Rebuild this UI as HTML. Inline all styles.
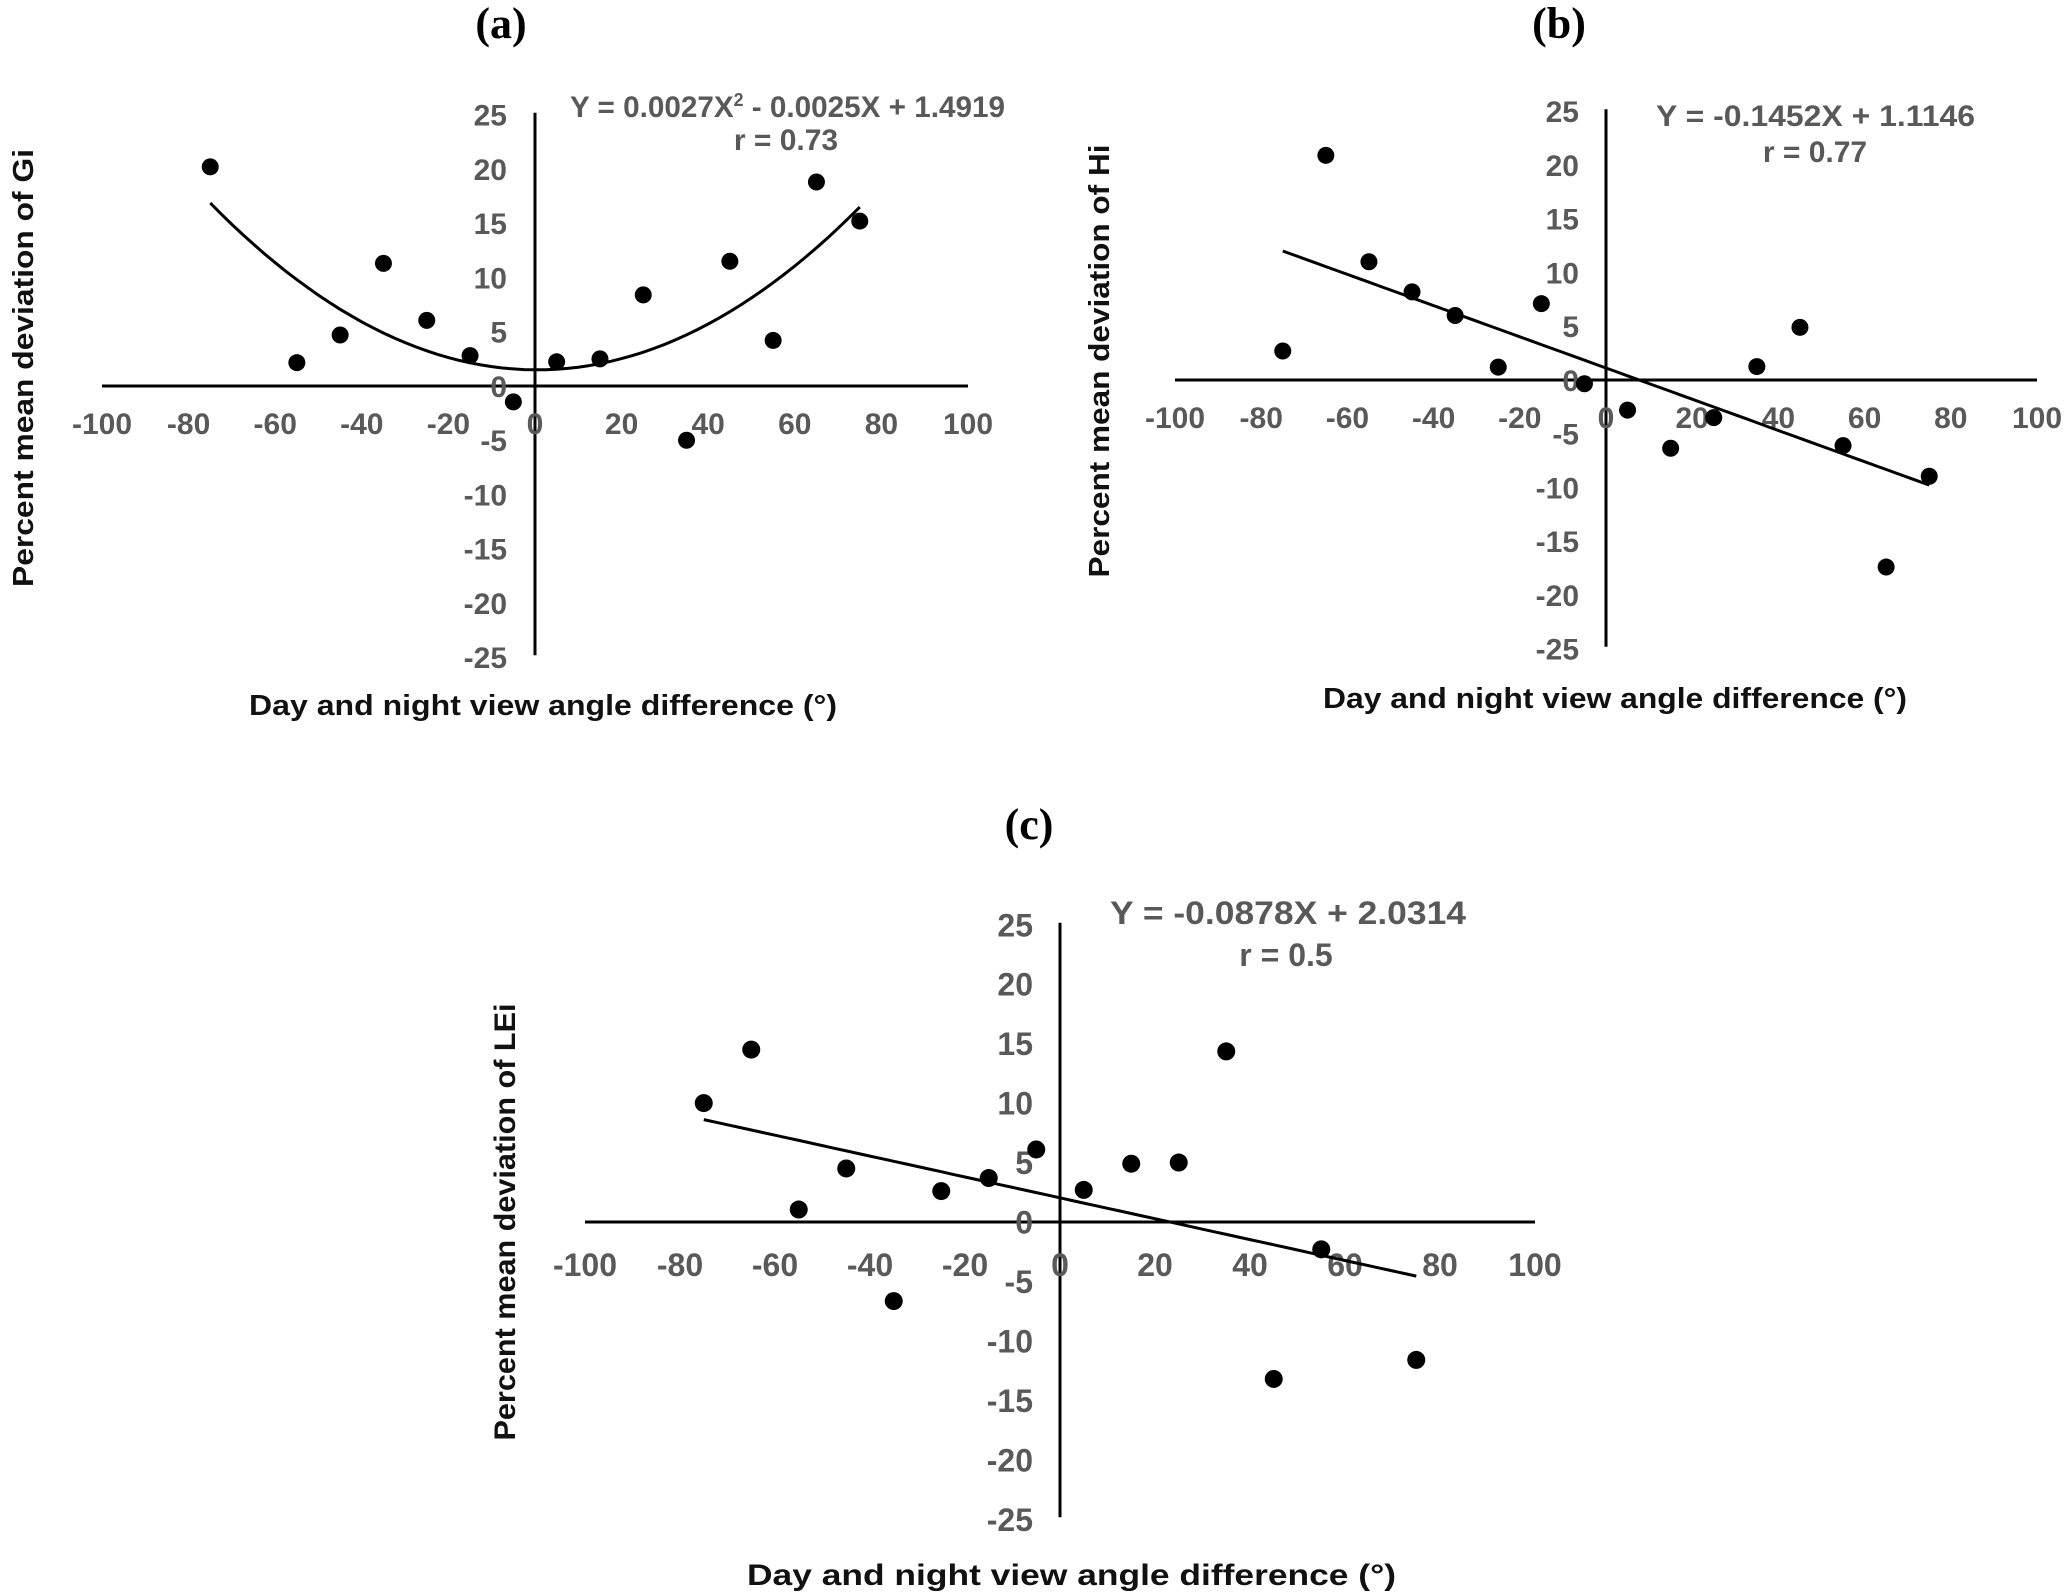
<!DOCTYPE html>
<html><head><meta charset="utf-8"><style>
html,body{margin:0;padding:0;background:#fff;}
svg{display:block;}
.tick{font-family:"Liberation Sans",sans-serif;font-weight:bold;fill:#595959;}
.ttl{font-family:"Liberation Sans",sans-serif;font-weight:bold;fill:#111;}
.eq{font-family:"Liberation Sans",sans-serif;font-weight:bold;fill:#595959;}
.pl{font-family:"Liberation Serif",serif;font-weight:bold;fill:#000;}
</style></head><body>
<svg id="fig" width="2067" height="1596" viewBox="0 0 2067 1596" xmlns="http://www.w3.org/2000/svg"></svg>
<script>
// ---- data ----
const xTickLabels = [-100,-80,-60,-40,-20,0,20,40,60,80,100];
const yTickLabels = [25,20,15,10,5,0,-5,-10,-15,-20,-25];
const xA = [-75,-55,-45,-35,-25,-15,-5,5,15,25,35,45,55,65,75];
const yA = [20.2,2.15,4.7,11.3,6.05,2.8,-1.46,2.23,2.5,8.4,-5.0,11.5,4.2,18.8,15.2];
const fitA = [0.0027,-0.0025,1.4919];
const xB = [-75,-65,-55,-45,-35,-25,-15,-5,5,15,25,35,45,55,65,75];
const yB = [2.7,20.9,11.0,8.2,6.0,1.2,7.1,-0.35,-2.8,-6.35,-3.5,1.25,4.9,-6.1,-17.4,-8.95];
const fitB = [0,-0.1452,1.1146];
const xC = [-75,-65,-55,-45,-35,-25,-15,-5,5,15,25,35,45,55,75];
const yC = [10.0,14.5,1.05,4.5,-6.65,2.6,3.7,6.1,2.7,4.9,5.0,14.35,-13.2,-2.3,-11.6];
const fitC = [0,-0.0878,2.0314];

const NS='http://www.w3.org/2000/svg';
const svg=document.getElementById('fig');
function mk(tag,attrs,parent,txt){const e=document.createElementNS(NS,tag);for(const k in attrs)e.setAttribute(k,attrs[k]);if(txt!==undefined)e.textContent=txt;(parent||svg).appendChild(e);return e;}

function panel(id,g,xs,ys,fit,labels){
  const grp=mk('g',{});
  
  
  const sx=v=>g.x0+v*g.kx, sy=v=>g.y0-v*g.ky;
  const t=mk('text',{x:g.titleX,y:g.titleY,'text-anchor':'middle','font-size':44,class:'pl'},grp,'('+id+')');
  
  
  const xl=mk('line',{x1:sx(-100),x2:sx(100),y1:g.y0,y2:g.y0,stroke:'#000','stroke-width':3},grp);
  
  
  const yl=mk('line',{x1:g.x0,x2:g.x0,y1:sy(25)-2,y2:sy(-25)-2,stroke:'#000','stroke-width':3},grp);
  
  
  xTickLabels.forEach(v=>{
    const e=mk('text',{x:sx(v),y:g.xLabY,'text-anchor':'middle','font-size':g.fs,class:'tick'},grp,String(v));
    
    
  });
  yTickLabels.forEach(v=>{
    const e=mk('text',{x:g.yLabR,y:sy(v)+g.fs*0.36,'text-anchor':'end','font-size':g.fs,class:'tick'},grp,String(v));
    
    
  });
  const x1=-75,x2=75;
  let d='';
  for(let i=0;i<=60;i++){const x=x1+(x2-x1)*i/60;const y=fit[0]*x*x+fit[1]*x+fit[2];d+=(i?'L':'M')+sx(x).toFixed(1)+','+sy(y).toFixed(1);}
  const tl=mk('path',{d:d,fill:'none',stroke:'#000','stroke-width':3},grp);
  
  
  xs.forEach((x,i)=>{
    const c=mk('circle',{cx:sx(x),cy:sy(ys[i]),r:g.r,fill:'#000'},grp);
    
    
  });
  const eq=mk('text',{x:g.eqX,y:g.eqY,'font-size':g.eqFs,class:'eq',textLength:g.eqLen,lengthAdjust:'spacingAndGlyphs'},grp);
  eq.innerHTML=labels.eq;
  
  
  const rr=mk('text',{x:g.rX,y:g.rY,'text-anchor':'middle','font-size':g.eqFs,class:'eq'},grp,labels.r);
  
  
  const xt=mk('text',{x:g.xtX,y:g.xtY,'font-size':g.tfs,class:'ttl',textLength:g.xtLen,lengthAdjust:'spacingAndGlyphs'},grp,'Day and night view angle difference (°)');
  
  
  const yt=mk('text',{x:0,y:0,'text-anchor':'middle','font-size':g.tfs,class:'ttl',textLength:g.ytLen,lengthAdjust:'spacingAndGlyphs',transform:'translate('+g.ytX+','+g.ytY+') rotate(-90)'},grp,labels.yt);
  
  
}

panel('a',{x0:535,kx:4.33,y0:386,ky:10.85,titleX:501,titleY:38,xLabY:434,yLabR:507,fs:30,r:8.5,
  eqX:570,eqY:117,eqFs:30,eqLen:435,rX:786,rY:150,xtX:249,xtY:715,xtLen:588,tfs:29,ytX:33,ytY:368,ytLen:438},
  xA,yA,fitA,{eq:'Y = 0.0027X<tspan font-size="18" dy="-11">2</tspan><tspan dy="11"> - 0.0025X + 1.4919</tspan>',r:'r = 0.73',yt:'Percent mean deviation of Gi'});
panel('b',{x0:1606,kx:4.31,y0:380,ky:10.75,titleX:1559,titleY:38,xLabY:428,yLabR:1579,fs:30,r:8.5,
  eqX:1656,eqY:126,eqFs:30,eqLen:319,rX:1815,rY:162,xtX:1323,xtY:708,xtLen:584,tfs:29,ytX:1109,ytY:361,ytLen:433},
  xB,yB,fitB,{eq:'Y = -0.1452X + 1.1146',r:'r = 0.77',yt:'Percent mean deviation of Hi'});
panel('c',{x0:1060,kx:4.75,y0:1222,ky:11.89,titleX:1029,titleY:839,xLabY:1276,yLabR:1033,fs:32,r:9,
  eqX:1110,eqY:924,eqFs:32,eqLen:356,rX:1286,rY:966,xtX:747,xtY:1585,xtLen:649,tfs:30,ytX:515,ytY:1222,ytLen:437},
  xC,yC,fitC,{eq:'Y = -0.0878X + 2.0314',r:'r = 0.5',yt:'Percent mean deviation of LEi'});
</script>
</body></html>
